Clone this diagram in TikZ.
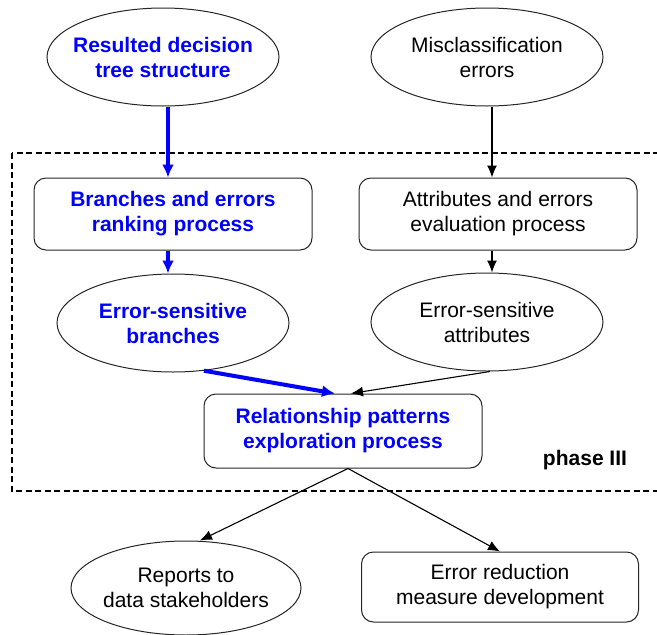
\documentclass[tikz,border=0pt]{standalone}
\usepackage{fontspec}
\setmainfont{Liberation Sans}
\usetikzlibrary{shapes.geometric,arrows.meta}
\tikzset{
  lbl/.style={font=\fontsize{21}{25}\selectfont,align=center},
  oval/.style={lbl,ellipse,draw=black!85,line width=1pt,inner xsep=-12pt,inner ysep=0pt,minimum width=232pt,minimum height=98pt},
  proc/.style={lbl,draw=black!85,line width=1pt,rounded corners=12pt,inner sep=0pt,minimum width=278pt,minimum height=72pt},
  hottext/.style={text=blue,font=\bfseries\fontsize{21}{25}\selectfont},
  flow/.style={->,black,line width=1.1pt},
  hot/.style={-{Latex[length=13pt,width=12pt]},blue,line width=4pt},
  frame/.style={line width=1.1pt,dash pattern=on 6pt off 3.5pt}
}
\begin{document}
\begin{tikzpicture}[x=1pt,y=-1pt,>={Latex[length=12pt,width=10pt]}]
\useasboundingbox (0,0) rectangle (657,635);
\draw[frame] (12,153) rectangle (672,491);
\path
(163,57)  node[oval,hottext] (tree) {Resulted decision\\tree structure}
(487,57)  node[oval] (miscl) {Misclassification\\errors}
(173,214) node[proc,hottext] (rank) {Branches and errors\\ranking process}
(498,214) node[proc] (eval) {Attributes and errors\\evaluation process}
(173,323) node[oval,hottext] (sbranch) {Error-sensitive\\branches}
(487,322) node[oval] (sattr) {Error-sensitive\\attributes}
(343,431) node[proc,hottext,minimum height=74pt] (explore) {Relationship patterns\\exploration process}
(585,460) node[lbl,font=\bfseries\fontsize{21}{25}\selectfont] (phase) {phase III}
(186,588) node[oval,minimum width=230pt,minimum height=94pt] (report) {Reports to\\data stakeholders}
(500,587) node[proc,minimum width=277pt,minimum height=70pt] (measure) {Error reduction\\measure development};
\draw[hot] ([xshift=5pt]tree.south) -- ([xshift=-5pt]rank.north);
\draw[hot] ([xshift=-5pt]rank.south) -- ([xshift=-5pt]sbranch.north);
\draw[flow] ([xshift=5pt]miscl.south) -- ([xshift=-6pt]eval.north);
\draw[flow] ([xshift=-6pt]eval.south) -- ([xshift=5pt]sattr.north);
\draw[hot] (sbranch.-57) -- ([xshift=-8pt]explore.north);
\draw[flow] ([xshift=3pt]sattr.south) -- ([xshift=8pt]explore.north);
\draw[flow] ([xshift=5pt]explore.south) -- ([xshift=14pt]report.north);
\draw[flow] ([xshift=5pt]explore.south) -- (measure.north);
\end{tikzpicture}
\end{document}
